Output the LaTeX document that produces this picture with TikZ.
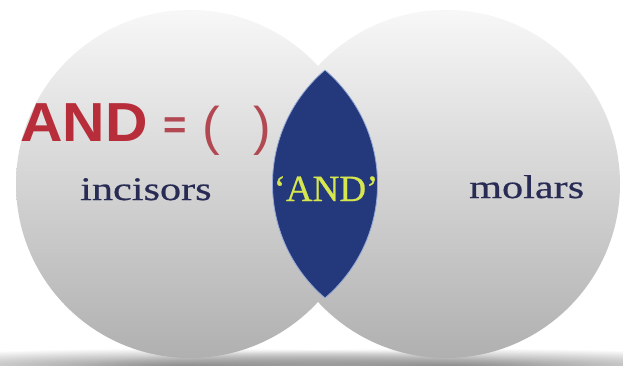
\documentclass[tikz,border=0pt]{standalone}
\usepackage{fontspec}
\usetikzlibrary{fadings}
\newfontfamily\sansb[FakeStretch=1.07]{Liberation Sans}
\newfontfamily\sansn{Liberation Sans}
\newfontfamily\serifw[FakeStretch=1.28,FakeBold=0.6]{Liberation Serif}
\newfontfamily\serifn[FakeBold=0.6]{Liberation Serif}
\definecolor{andred}{RGB}{183,45,58}
\definecolor{parred}{RGB}{178,72,82}
\definecolor{navytext}{RGB}{40,44,84}
\definecolor{lensblue}{RGB}{36,56,124}
\definecolor{lensedge}{RGB}{150,170,215}
\definecolor{andyellow}{RGB}{214,230,78}
\tikzfading[name=shfade, inner color=transparent!0, outer color=transparent!100]
\begin{document}
\begin{tikzpicture}[x=1pt,y=-1pt,
  ball/.style={top color=black!3, bottom color=black!31, shading angle=0},
  shadowblur/.style={fill=black!45, path fading=shfade},
  redbig/.style={font=\sansb\bfseries\fontsize{55}{55}\selectfont, text=andred, inner sep=0pt},
  redeq/.style={font=\sansn\bfseries\fontsize{40}{40}\selectfont, text=parred, inner sep=0pt},
  redpar/.style={font=\sansn\fontsize{53}{53}\selectfont, text=parred, inner sep=0pt},
  settext/.style={font=\serifw\fontsize{33}{33}\selectfont, text=navytext, inner sep=0pt},
  lenstext/.style={font=\serifn\fontsize{37}{37}\selectfont, text=andyellow, inner sep=0pt}]
\useasboundingbox (0,0) rectangle (623,365);
\fill[white] (0,0) rectangle (623,365);
% shadows
\fill[shadowblur] (192,366) ellipse (360 and 18);
\fill[shadowblur] (446,366) ellipse (360 and 18);
% circles
\shade[ball] (190,184) circle (174);
\shade[ball] (446,184) circle (174);
% lens
\begin{scope}
  \clip (227.5,184) circle (150);
  \fill[lensblue] (422.5,184) circle (150);
\end{scope}
\begin{scope}
  \clip (227.5,184) circle (150);
  \draw[lensedge, line width=0.8pt] (422.5,184) circle (150);
\end{scope}
\begin{scope}
  \clip (422.5,184) circle (150);
  \draw[lensedge, line width=0.8pt] (227.5,184) circle (150);
\end{scope}
% texts
\node[redbig, anchor=base west] (and) at (20,141) {AND};
\node[redeq] (eq) at (175,128) {=};
\node[redpar] (lp) at (211,131) {(};
\node[redpar] (rp) at (262,131) {)};
\node[settext, anchor=base west] (inc) at (80,200) {incisors};
\node[settext, anchor=base west] (mol) at (469,198) {molars};
\node[lenstext, anchor=base] (andq) at (326,201) {‘AND’};
\end{tikzpicture}
\end{document}
